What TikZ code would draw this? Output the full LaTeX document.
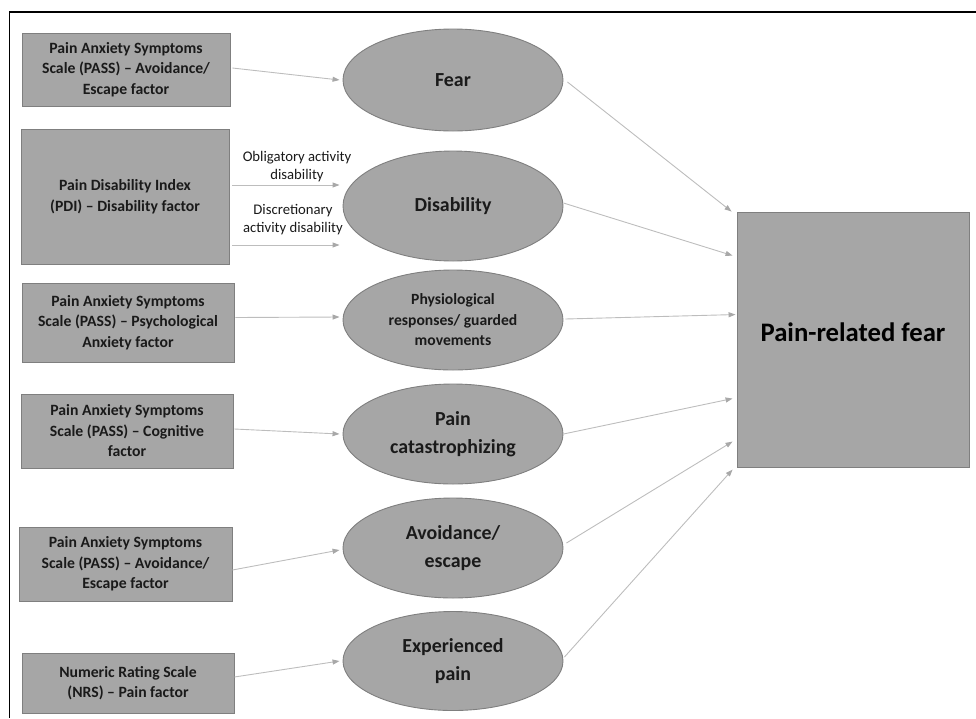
\documentclass[tikz,border=0pt]{standalone}
\usepackage{fontspec}
\setmainfont{Carlito}
\usetikzlibrary{shapes.geometric,arrows.meta,calc}
\definecolor{boxfill}{HTML}{A6A6A6}
\definecolor{boxline}{HTML}{7F7F7F}
\definecolor{arrline}{HTML}{BDBDBD}
\definecolor{arrhead}{HTML}{A8A8A8}
\definecolor{txt}{HTML}{1A1A1A}
\tikzset{
  sbox/.style={draw=boxline, fill=boxfill, line width=0.9pt, inner sep=0pt, align=center,
    text=txt, font=\bfseries\fontsize{15.7}{20.5}\selectfont},
  ell/.style={ellipse, draw=boxline, fill=boxfill, line width=0.9pt, inner sep=0pt,
    minimum width=220pt, minimum height=100pt, align=center,
    text=txt, font=\bfseries\fontsize{19.9}{28}\selectfont},
  arr/.style={draw=arrline, line width=0.9pt,
    -{Triangle[length=7pt,width=5pt,color=arrhead,fill=arrhead]}},
  lbl/.style={align=center, inner sep=0pt, text=txt, font=\fontsize{14.7}{18.5}\selectfont},
}
\begin{document}
\begin{tikzpicture}[x=1pt,y=-1pt]
\useasboundingbox (0,0) rectangle (976,718);
% outer frame (top and left only)
\draw[line width=1.5pt] (976,12) -- (9.5,12) -- (9.5,718);

% measure boxes
\node[sbox, minimum width=208pt, minimum height=73pt] (b1) at (126,69.5)
  {Pain Anxiety Symptoms\\Scale (PASS) -- Avoidance/\\Escape factor};
\node[sbox, minimum width=208pt, minimum height=135pt] (b2) at (125,196.5)
  {Pain Disability Index\\(PDI) -- Disability factor};
\node[sbox, minimum width=212pt, minimum height=79pt] (b3) at (128,322.5)
  {Pain Anxiety Symptoms\\Scale (PASS) -- Psychological\\Anxiety factor};
\node[sbox, minimum width=212pt, minimum height=74pt] (b4) at (127,431)
  {Pain Anxiety Symptoms\\Scale (PASS) -- Cognitive\\factor};
\node[sbox, minimum width=213pt, minimum height=74pt] (b5) at (125.5,564)
  {Pain Anxiety Symptoms\\Scale (PASS) -- Avoidance/\\Escape factor};
\node[sbox, minimum width=212pt, minimum height=60pt] (b6) at (128,683)
  {Numeric Rating Scale\\(NRS) -- Pain factor};

% latent ellipses
\node[ell, minimum height=102pt] (fear) at (453,80) {Fear};
\node[ell, minimum height=110pt] (dis) at (453,206) {Disability};
\node[ell, font=\bfseries\fontsize{15.6}{20.5}\selectfont] (phys) at (453,320)
  {Physiological\\responses/ guarded\\movements};
\node[ell] (cat) at (453,434) {Pain\\catastrophizing};
\node[ell] (avo) at (453,548) {Avoidance/\\escape};
\node[ell, minimum height=99pt] (exp) at (453,661) {Experienced\\pain};

% outcome box
\node[draw=boxline, fill=boxfill, line width=0.9pt, minimum width=232pt, minimum height=255pt, inner sep=0pt]
  (prf) at (853,339.5) {};
\node[font=\bfseries\fontsize{26.7}{30}\selectfont, inner sep=0pt] (prft) at (853,332) {Pain-related fear};

% left arrows
\draw[arr] ([xshift=2pt,yshift=1.5pt]b1.east) -- ([xshift=-3pt]fear.west);
\coordinate (o1) at ([xshift=3pt,yshift=11.5pt]b2.east);
\coordinate (o2) at ([xshift=3pt,yshift=-48.5pt]b2.east);
\draw[arr] (o1) -- ($(o1 -| dis.west)+(-3,0)$);
\draw[arr] (o2) -- ($(o2 -| dis.west)+(-3,0)$);
\node[lbl] (l1) at (297,166.5) {Obligatory activity\\disability};
\node[lbl] (l2) at (293,219.5) {Discretionary\\activity disability};
\draw[arr] ([xshift=1pt,yshift=5pt]b3.east) -- ([xshift=-3pt,yshift=3pt]phys.west);
\draw[arr] ([xshift=1pt,yshift=2pt]b4.east) -- ([xshift=-3pt]cat.west);
\draw[arr] ([yshift=-6pt]b5.east) -- ([xshift=-3pt,yshift=-2pt]avo.west);
\draw[arr] ([yshift=6pt]b6.east) -- ([xshift=-3pt]exp.west);

% right arrows
\draw[arr] ([xshift=4pt,yshift=-2pt]fear.east) -- ($(prf.north west)+(-5,0)$);
\draw[arr] ([yshift=3pt]dis.east) -- ($(prf.north west)+(-4,44)$);
\draw[arr] ([xshift=2pt,yshift=1pt]phys.east) -- ($(prf.north west)+(-1,103)$);
\draw[arr] (cat.east) -- ($(prf.north west)+(-4,187)$);
\draw[arr] ([xshift=3pt,yshift=5pt]avo.east) -- ($(prf.north west)+(-4,230)$);
\draw[arr] ([xshift=1pt,yshift=4pt]exp.east) -- ($(prf.north west)+(-4,258)$);
\end{tikzpicture}
\end{document}
